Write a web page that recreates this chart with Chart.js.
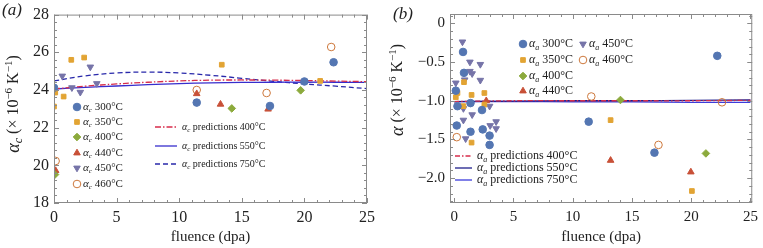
<!DOCTYPE html>
<html>
<head>
<meta charset="utf-8">
<script src="https://cdn.jsdelivr.net/npm/chart.js@4"></script>
<style>
  html, body { margin: 0; padding: 0; background: #fff; }
  #wrap { position: relative; width: 763px; height: 248px; overflow: hidden; }
  .panel { position: absolute; top: 0; height: 248px; }
</style>
</head>
<body>
<div id="wrap">
  <div class="panel" style="left:0;width:380px"><canvas id="chartA" width="380" height="248"></canvas></div>
  <div class="panel" style="left:380px;width:383px"><canvas id="chartB" width="383" height="248"></canvas></div>
</div>
<script>
// ---- tick labels ----
const xTicks = [0, 5, 10, 15, 20, 25];
const yTicksA = [18, 20, 22, 24, 26, 28];
const yTicksB = [-2.0, -1.5, -1.0, -0.5, 0];
const yTickLabelsB = ["\u22122.0", "\u22121.5", "\u22121.0", "\u22120.5", "0"];
const temps = ["300°C", "350°C", "400°C", "440°C", "450°C", "460°C"];
const predTemps = ["400°C", "550°C", "750°C"];

// ---- panel (a): alpha_c measurements ----
const a300x = [0.0, 11.4, 17.25, 20.0, 22.33];
const a300y = [24.12, 23.33, 23.15, 24.45, 25.47];
const a350x = [0.0, 0.1, 0.77, 1.38, 2.41, 13.4, 21.26];
const a350y = [23.12, 23.86, 23.65, 25.6, 25.72, 25.34, 24.48];
const a400x = [0.08, 14.2, 19.7];
const a400y = [19.51, 23.02, 23.98];
const a440x = [0.13, 11.4, 13.3, 17.1];
const a440y = [19.72, 23.8, 23.24, 22.98];
const a450x = [0.66, 1.43, 2.1, 2.9, 3.42];
const a450y = [24.74, 24.12, 23.88, 25.22, 24.34];
const a460x = [0.13, 11.4, 16.98, 22.14];
const a460y = [20.23, 24.0, 23.84, 26.28];

// ---- panel (a): predictions ----
const predXA = [0, 2.5, 5, 7.5, 10, 12.5, 15, 17.5, 20, 22.5, 25];
const predA400 = [24.05, 24.2, 24.32, 24.41, 24.48, 24.52, 24.53, 24.52, 24.5, 24.47, 24.44];
const predA550 = [24.05, 24.14, 24.21, 24.28, 24.34, 24.38, 24.4, 24.41, 24.41, 24.41, 24.4];
const predA750 = [24.48, 24.75, 24.9, 24.95, 24.9, 24.78, 24.62, 24.46, 24.32, 24.2, 24.07];

// ---- panel (b): alpha_a measurements ----
const b300x = [0.14, 0.22, 0.28, 0.75, 0.83, 1.38, 1.38, 2.35, 2.41, 2.99, 2.99, 11.35, 16.9, 22.2];
const b300y = [-0.87, -1.32, -1.07, -0.37, -0.64, -1.03, -1.40, -1.12, -1.37, -1.45, -1.57, -1.27, -1.67, -0.42];
const b350x = [0.14, 0.28, 0.78, 0.83, 1.47, 1.47, 2.55, 2.55, 13.2, 20.06];
const b350y = [-0.955, -0.9, -1.07, -0.76, -0.925, -1.54, -0.9, -1.05, -1.25, -2.165];
const b400x = [14.03, 21.24];
const b400y = [-0.99, -1.68];
const b440x = [2.71, 13.2, 19.97];
const b440y = [-1.0, -1.77, -1.92];
const b450x = [0.14, 0.70, 0.78, 0.78, 0.89, 0.97, 1.33, 1.33, 1.52, 1.52, 2.21, 2.21, 2.99, 3.04, 3.54, 3.54];
const b450y = [-0.77, -0.24, -1.1, -1.25, -0.73, -1.49, -0.50, -0.62, -0.65, -1.18, -0.53, -0.735, -1.07, -1.32, -1.27, -1.36];
const b460x = [0.22, 11.57, 17.24, 22.6];
const b460y = [-1.47, -0.945, -1.57, -1.02];

// ---- panel (b): predictions ----
const predXB = [0, 5, 10, 15, 20, 25];
const predB400 = [-1.01, -1.0, -1.0, -1.0, -1.0, -0.995];
const predB550 = [-1.01, -1.005, -1.0, -1.0, -0.995, -0.99];
const predB750 = [-1.01, -1.01, -1.015, -1.015, -1.02, -1.02];

const FONT = "'Liberation Serif', serif";
Chart.defaults.font.family = FONT;
Chart.defaults.color = "#222";

const pts = (xs, ys) => xs.map((x, i) => ({ x: x, y: ys[i] }));

const markerStyles = [
  { pointStyle: "circle", backgroundColor: "rgb(84,118,178)", borderColor: "rgb(84,118,178)", pointRadius: 3.8 },
  { pointStyle: "rect", backgroundColor: "rgb(226,164,52)", borderColor: "rgb(226,164,52)", pointRadius: 3.3 },
  { pointStyle: "rectRot", backgroundColor: "rgb(140,170,60)", borderColor: "rgb(140,170,60)", pointRadius: 3.8 },
  { pointStyle: "triangle", backgroundColor: "rgb(200,80,55)", borderColor: "rgb(200,80,55)", pointRadius: 3.8 },
  { pointStyle: "triangle", rotation: 180, backgroundColor: "rgb(118,116,168)", borderColor: "rgb(118,116,168)", pointRadius: 3.8 },
  { pointStyle: "circle", backgroundColor: "rgba(255,255,255,0)", borderColor: "rgb(205,120,60)", pointRadius: 3.8 }
];

function scatterSet(i, xs, ys) {
  const s = markerStyles[i];
  return {
    data: pts(xs, ys), showLine: false,
    pointStyle: s.pointStyle, pointRotation: s.rotation || 0,
    backgroundColor: s.backgroundColor, borderColor: s.borderColor,
    pointRadius: s.pointRadius, borderWidth: 1
  };
}
function lineSet(xs, ys, color, dash, width) {
  return {
    data: pts(xs, ys), showLine: true, pointRadius: 0,
    borderColor: color, backgroundColor: color, borderWidth: width || 1.3,
    borderDash: dash, tension: 0.4, fill: false
  };
}

// ---- draw helpers ----
function drawRuns(ctx, runs, x, y) {
  let cx = x;
  runs.forEach(r => {
    ctx.font = r.font;
    ctx.fillText(r.t, cx, y + (r.dy || 0));
    cx += ctx.measureText(r.t).width;
  });
  return cx - x;
}
function runsWidth(ctx, runs) {
  let w = 0;
  runs.forEach(r => { ctx.font = r.font; w += ctx.measureText(r.t).width; });
  return w;
}
function alphaRuns(sub, rest, s) {
  return [
    { t: "α", font: `italic ${s}px ${FONT}` },
    { t: sub, font: `italic ${Math.round(s * 0.68)}px ${FONT}`, dy: s * 0.3 },
    { t: " " + rest, font: `${s}px ${FONT}` }
  ];
}

// inward frame ticks on all four sides
const framePlugin = {
  id: "frame",
  afterDatasetsDraw(chart, args, o) {
    const { ctx, chartArea: a, scales: { x, y } } = chart;
    ctx.save();
    ctx.strokeStyle = "#8a8a8a";
    ctx.lineWidth = 1;
    ctx.strokeRect(a.left + 0.5, a.top + 0.5, a.width - 1, a.height - 1);
    ctx.beginPath();
    const n1 = Math.ceil(x.min / o.xMinor - 1e-6), n2 = Math.floor(x.max / o.xMinor + 1e-6);
    for (let k = n1; k <= n2; k++) {
      const v = k * o.xMinor;
      const major = Math.abs(v / o.xMajor - Math.round(v / o.xMajor)) < 1e-6;
      const len = major ? 5 : 3;
      const px = Math.round(x.getPixelForValue(v)) + 0.5;
      ctx.moveTo(px, a.bottom); ctx.lineTo(px, a.bottom - len);
      ctx.moveTo(px, a.top); ctx.lineTo(px, a.top + len);
    }
    const m1 = Math.ceil(y.min / o.yMinor - 1e-6), m2 = Math.floor(y.max / o.yMinor + 1e-6);
    for (let k = m1; k <= m2; k++) {
      const v = k * o.yMinor;
      const major = Math.abs(v / o.yMajor - Math.round(v / o.yMajor)) < 1e-6;
      const len = major ? 5 : 3;
      const py = Math.round(y.getPixelForValue(v)) + 0.5;
      ctx.moveTo(a.left, py); ctx.lineTo(a.left + len, py);
      ctx.moveTo(a.right, py); ctx.lineTo(a.right - len, py);
    }
    ctx.stroke();
    ctx.restore();
  }
};

// panel label, rotated y title and the two legends
const notesPlugin = {
  id: "notes",
  afterDraw(chart, args, o) {
    const ctx = chart.ctx;
    ctx.save();
    ctx.fillStyle = "#222";
    ctx.textBaseline = "middle";
    ctx.textAlign = "left";
    ctx.font = `italic 17px ${FONT}`;
    ctx.fillText(o.panel, o.panelX, o.panelY);

    // y title
    const t = o.yTitle;
    const runs = [
      { t: "α", font: `italic 18px ${FONT}` },
      { t: t.sub, font: `italic 12px ${FONT}`, dy: 5 },
      { t: " (× 10", font: `16px ${FONT}` },
      { t: "\u22126", font: `11px ${FONT}`, dy: -5 },
      { t: " K", font: `16px ${FONT}` },
      { t: "\u22121", font: `11px ${FONT}`, dy: -5 },
      { t: ")", font: `16px ${FONT}` }
    ];
    ctx.save();
    ctx.translate(t.x, t.y);
    ctx.rotate(-Math.PI / 2);
    drawRuns(ctx, runs, -runsWidth(ctx, runs) / 2, 0);
    ctx.restore();

    // marker legend
    o.markers.forEach(m => {
      const ds = chart.data.datasets[m.ds];
      ctx.save();
      ctx.fillStyle = ds.backgroundColor;
      ctx.strokeStyle = ds.borderColor;
      ctx.lineWidth = 1;
      Chart.helpers.drawPoint(ctx, { pointStyle: ds.pointStyle, radius: ds.pointRadius, rotation: ds.pointRotation, borderWidth: 1 }, m.x, m.y);
      ctx.restore();
      drawRuns(ctx, alphaRuns(o.sub, m.label, o.markerSize), m.x + 6, m.y);
    });

    // line legend
    o.lines.forEach(l => {
      const ds = chart.data.datasets[l.ds];
      ctx.save();
      ctx.strokeStyle = ds.borderColor;
      ctx.lineWidth = ds.borderWidth;
      ctx.setLineDash(ds.borderDash || []);
      ctx.beginPath();
      ctx.moveTo(o.lineX0, l.y); ctx.lineTo(o.lineX1, l.y);
      ctx.stroke();
      ctx.restore();
      drawRuns(ctx, alphaRuns(o.sub, "predictions " + l.label, o.lineSize), o.lineX1 + 5, l.y);
    });
    ctx.restore();
  }
};

function axisOpts(min, max, ticks, labels, size, fixed, isX) {
  return {
    type: "linear", min: min, max: max,
    afterBuildTicks: s => { s.ticks = ticks.map(v => ({ value: v })); },
    afterFit: s => { if (isX) s.height = fixed; else s.width = fixed; },
    grid: { display: false, drawTicks: false },
    border: { display: false },
    ticks: {
      color: "#222", padding: 5, maxRotation: 0,
      font: { family: FONT, size: size },
      callback: (v) => { const i = ticks.indexOf(v); return labels ? labels[i] : String(v); }
    },
    title: isX ? { display: true, text: "fluence (dpa)", color: "#222", font: { family: FONT, size: 15 }, padding: { top: 3, bottom: 0 } } : { display: false }
  };
}

function baseOptions(pad, xScale, yScale, frame, notes) {
  return {
    responsive: false, animation: false, devicePixelRatio: 1,
    layout: { padding: pad },
    scales: { x: xScale, y: yScale },
    plugins: { legend: { display: false }, tooltip: { enabled: false }, frame: frame, notes: notes }
  };
}

// ---- panel (a) ----
new Chart(document.getElementById("chartA"), {
  type: "scatter",
  data: {
    datasets: [
      scatterSet(0, a300x, a300y),
      scatterSet(1, a350x, a350y),
      scatterSet(2, a400x, a400y),
      scatterSet(3, a440x, a440y),
      scatterSet(4, a450x, a450y),
      scatterSet(5, a460x, a460y),
      lineSet(predXA, predA400, "rgb(215,45,75)", [6, 2, 1.5, 2]),
      lineSet(predXA, predA550, "rgb(55,45,205)", []),
      lineSet(predXA, predA750, "rgb(40,40,170)", [5, 3])
    ]
  },
  options: baseOptions(
    { top: 9, right: 12, left: 0, bottom: 2 },
    axisOpts(0, 25, xTicks, null, 16, 43, true),
    axisOpts(18, 28, yTicksA, null, 16, 54, false),
    { xMajor: 5, xMinor: 1, yMajor: 2, yMinor: 0.4 },
    {
      panel: "(a)", panelX: 2, panelY: 11, sub: "c",
      yTitle: { x: 14, y: 104, sub: "c" },
      markerSize: 11,
      markers: temps.map((t, i) => ({ ds: i, label: t, x: 77, y: [107, 122, 137, 153, 168, 184][i] })),
      lineSize: 10, lineX0: 155, lineX1: 177,
      lines: predTemps.map((t, i) => ({ ds: 6 + i, label: t, y: [127, 146, 164][i] }))
    }
  ),
  plugins: [framePlugin, notesPlugin]
});

// ---- panel (b) ----
new Chart(document.getElementById("chartB"), {
  type: "scatter",
  data: {
    datasets: [
      scatterSet(0, b300x, b300y),
      scatterSet(1, b350x, b350y),
      scatterSet(2, b400x, b400y),
      scatterSet(3, b440x, b440y),
      scatterSet(4, b450x, b450y),
      scatterSet(5, b460x, b460y),
      lineSet(predXB, predB400, "rgb(215,45,75)", [5, 2, 1.5, 2]),
      lineSet(predXB, predB550, "rgb(30,30,140)", []),
      lineSet(predXB, predB750, "rgb(60,60,220)", [])
    ]
  },
  options: baseOptions(
    { top: 11, right: 6, left: 0, bottom: 2 },
    axisOpts(-0.35, 25.15, xTicks, null, 15, 43, true),
    axisOpts(-2.32, 0.12, yTicksB, yTickLabelsB, 15, 70, false),
    { xMajor: 5, xMinor: 1, yMajor: 0.5, yMinor: 0.1 },
    {
      panel: "(b)", panelX: 13, panelY: 15, sub: "a",
      yTitle: { x: 18, y: 90, sub: "" },
      markerSize: 12,
      markers: [
        { ds: 0, label: temps[0], x: 143, y: 44 },
        { ds: 1, label: temps[1], x: 143, y: 60 },
        { ds: 2, label: temps[2], x: 143, y: 76 },
        { ds: 3, label: temps[3], x: 143, y: 91 },
        { ds: 4, label: temps[4], x: 203, y: 44 },
        { ds: 5, label: temps[5], x: 203, y: 60 }
      ],
      lineSize: 12, lineX0: 75, lineX1: 92,
      lines: predTemps.map((t, i) => ({ ds: 6 + i, label: t, y: [156, 168, 180][i] }))
    }
  ),
  plugins: [framePlugin, notesPlugin]
});
</script>
</body>
</html>
